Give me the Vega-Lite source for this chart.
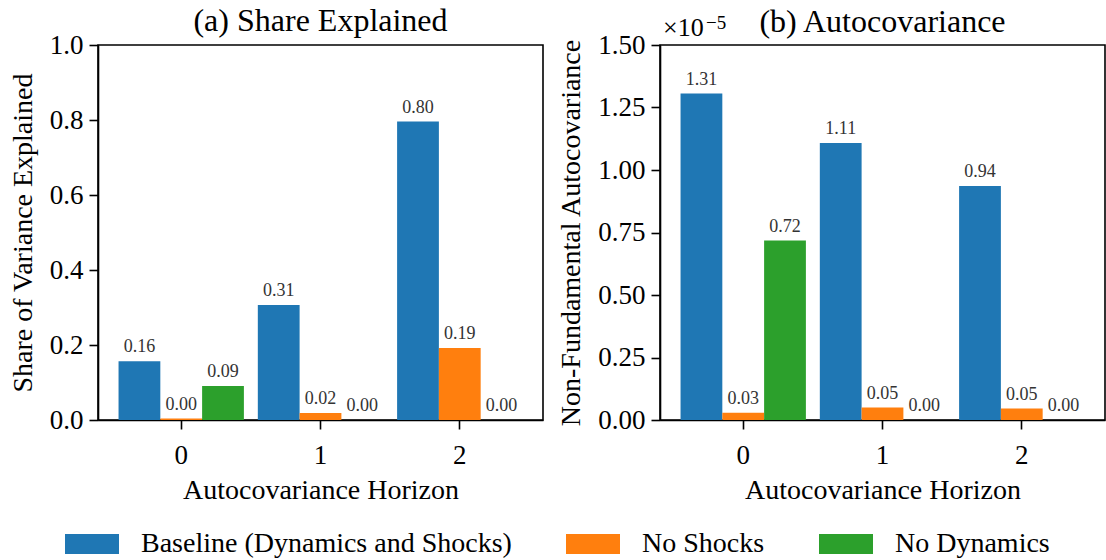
{
  "$schema": "https://vega.github.io/schema/vega-lite/v6.json",
  "background": "white",
  "padding": {"left": 8, "top": 4, "right": 0, "bottom": 0},
  "datasets": {
    "share": [
      {"horizon": 0, "scenario": "Baseline (Dynamics and Shocks)", "value": 0.157},
      {"horizon": 0, "scenario": "No Shocks", "value": 0.004},
      {"horizon": 0, "scenario": "No Dynamics", "value": 0.091},
      {"horizon": 1, "scenario": "Baseline (Dynamics and Shocks)", "value": 0.307},
      {"horizon": 1, "scenario": "No Shocks", "value": 0.019},
      {"horizon": 1, "scenario": "No Dynamics", "value": 0.0},
      {"horizon": 2, "scenario": "Baseline (Dynamics and Shocks)", "value": 0.796},
      {"horizon": 2, "scenario": "No Shocks", "value": 0.192},
      {"horizon": 2, "scenario": "No Dynamics", "value": 0.0}
    ],
    "autocov": [
      {"horizon": 0, "scenario": "Baseline (Dynamics and Shocks)", "value": 1.306},
      {"horizon": 0, "scenario": "No Shocks", "value": 0.029},
      {"horizon": 0, "scenario": "No Dynamics", "value": 0.718},
      {"horizon": 1, "scenario": "Baseline (Dynamics and Shocks)", "value": 1.108},
      {"horizon": 1, "scenario": "No Shocks", "value": 0.05},
      {"horizon": 1, "scenario": "No Dynamics", "value": 0.0},
      {"horizon": 2, "scenario": "Baseline (Dynamics and Shocks)", "value": 0.936},
      {"horizon": 2, "scenario": "No Shocks", "value": 0.046},
      {"horizon": 2, "scenario": "No Dynamics", "value": 0.0}
    ]
  },
  "config": {
    "font": "Liberation Serif",
    "view": {"stroke": "black", "strokeWidth": 1.6},
    "axis": {
      "grid": false,
      "domainColor": "black",
      "domainWidth": 1.6,
      "tickColor": "black",
      "tickWidth": 1.6,
      "tickSize": 9,
      "labelColor": "black",
      "titleColor": "black",
      "labelFont": "Liberation Serif",
      "titleFont": "Liberation Serif",
      "labelFontSize": 27,
      "titleFontSize": 28,
      "titleFontWeight": "normal"
    },
    "axisX": {"labelAngle": 0, "labelPadding": 13, "titlePadding": 8},
    "axisY": {"labelPadding": 6, "titlePadding": 12},
    "title": {"font": "Liberation Serif", "fontSize": 32, "fontWeight": "normal", "color": "black"},
    "legend": {
      "labelFont": "Liberation Serif",
      "labelFontSize": 28,
      "labelColor": "black",
      "labelLimit": 600
    }
  },
  "spacing": 117,
  "bounds": "flush",
  "resolve": {"scale": {"y": "independent", "color": "shared"}},
  "hconcat": [
    {
      "width": 445,
      "height": 375,
      "data": {"name": "share"},
      "title": {"text": "(a) Share Explained", "baseline": "alphabetic", "offset": -32},
      "encoding": {
        "x": {
          "field": "horizon",
          "type": "ordinal",
          "scale": {"paddingInner": 0.1, "paddingOuter": 0.1475},
          "axis": {"title": "Autocovariance Horizon"}
        },
        "xOffset": {
          "field": "scenario",
          "type": "nominal",
          "sort": ["Baseline (Dynamics and Shocks)", "No Shocks", "No Dynamics"],
          "scale": {"paddingInner": 0, "paddingOuter": 0}
        },
        "y": {
          "field": "value",
          "type": "quantitative",
          "scale": {"domain": [0, 1], "nice": false},
          "axis": {"title": "Share of Variance Explained", "values": [0, 0.2, 0.4, 0.6, 0.8, 1.0], "format": ".1f"}
        }
      },
      "layer": [
        {
          "mark": {"type": "bar"},
          "encoding": {
            "color": {
              "field": "scenario",
              "type": "nominal",
              "scale": {
                "domain": ["Baseline (Dynamics and Shocks)", "No Shocks", "No Dynamics"],
                "range": ["#1f77b4", "#ff7f0e", "#2ca02c"]
              },
              "legend": {
                "title": null,
                "orient": "none",
                "direction": "horizontal",
                "legendX": -26,
                "legendY": 479,
                "symbolType": "M-1.35,-0.5H1.35V0.5H-1.35Z",
                "symbolSize": 1600,
                "symbolStrokeWidth": 0,
                "symbolOpacity": 1,
                "labelOffset": 29,
                "columnPadding": 54
              }
            }
          }
        },
        {
          "mark": {"type": "text", "baseline": "alphabetic", "dy": -9, "fontSize": 18, "color": "#333333"},
          "encoding": {"text": {"field": "value", "type": "quantitative", "format": ".2f"}}
        }
      ]
    },
    {
      "width": 445,
      "height": 375,
      "title": {"text": "(b) Autocovariance", "baseline": "alphabetic", "offset": -50},
      "layer": [
        {
          "data": {"name": "autocov"},
          "encoding": {
            "x": {
              "field": "horizon",
              "type": "ordinal",
              "scale": {"paddingInner": 0.1, "paddingOuter": 0.1475},
              "axis": {"title": "Autocovariance Horizon"}
            },
            "xOffset": {
              "field": "scenario",
              "type": "nominal",
              "sort": ["Baseline (Dynamics and Shocks)", "No Shocks", "No Dynamics"],
              "scale": {"paddingInner": 0, "paddingOuter": 0}
            },
            "y": {
              "field": "value",
              "type": "quantitative",
              "scale": {"domain": [0, 1.5], "nice": false},
              "axis": {"title": "Non-Fundamental Autocovariance", "values": [0, 0.25, 0.5, 0.75, 1.0, 1.25, 1.5], "format": ".2f"}
            }
          },
          "layer": [
            {
              "mark": {"type": "bar"},
              "encoding": {
                "color": {"field": "scenario", "type": "nominal"}
              }
            },
            {
              "mark": {"type": "text", "baseline": "alphabetic", "dy": -9, "fontSize": 18, "color": "#333333"},
              "encoding": {"text": {"field": "value", "type": "quantitative", "format": ".2f"}}
            }
          ]
        },
        {
          "data": {"values": [{"mult": "×10", "exp": "−5"}]},
          "mark": {"type": "text", "align": "left", "baseline": "alphabetic", "dx": 3, "dy": -9, "fontSize": 26, "color": "black"},
          "encoding": {
            "x": {"value": 0},
            "y": {"datum": 1.5},
            "text": {"field": "mult"}
          }
        },
        {
          "data": {"values": [{"mult": "×10", "exp": "−5"}]},
          "mark": {"type": "text", "align": "left", "baseline": "alphabetic", "dx": 46, "dy": -16, "fontSize": 19, "color": "black"},
          "encoding": {
            "x": {"value": 0},
            "y": {"datum": 1.5},
            "text": {"field": "exp"}
          }
        }
      ]
    }
  ]
}
